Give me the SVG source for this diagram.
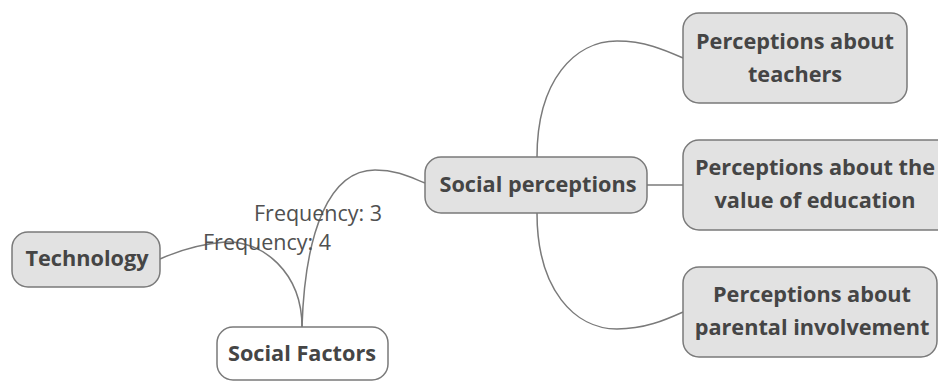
<svg xmlns="http://www.w3.org/2000/svg" width="938" height="382" viewBox="0 0 938 382">
<style>
.box{fill:#e2e2e2;stroke:#7a7a7a;stroke-width:1.5}
.root{fill:#ffffff;stroke:#7a7a7a;stroke-width:1.5}
.t{font-family:"Open Sans","Noto Sans",sans-serif;font-weight:bold;font-size:21.7px;fill:#454545;text-anchor:middle}
.lbl{font-family:"Open Sans","Noto Sans",sans-serif;font-size:21.5px;fill:#505050}
.c{fill:none;stroke:#7a7a7a;stroke-width:1.5}
</style>
<rect width="938" height="382" fill="#ffffff"/>
<g id="connectors">
<path class="c" d="M302,327 C302,272 262,240 225,242 C200,244 180,250 160,259"/>
<path class="c" d="M302,327 C305,230 330,170 375,170 C398,170 412,178 425,183"/>
<path class="c" d="M537,157 C537,80 575,41 617,41 C645,41 665,50 683,58"/>
<path class="c" d="M647,185 L683,185"/>
<path class="c" d="M537,213 C537,290 575,329 617,329 C645,329 665,320 683,312"/>
</g>
<g id="labels">
<text class="lbl" x="254" y="221">Frequency: 3</text>
<text class="lbl" x="203" y="250">Frequency: 4</text>
</g>
<g id="social-factors">
<rect class="root" x="217" y="327" width="171" height="53" rx="16"/>
<text class="t" x="302" y="361">Social Factors</text>
</g>
<g id="technology">
<rect class="box" x="12" y="232" width="148" height="55" rx="16"/>
<text class="t" x="87" y="266">Technology</text>
</g>
<g id="social-perceptions">
<rect class="box" x="425" y="157" width="222" height="56" rx="16"/>
<text class="t" x="538" y="192">Social perceptions</text>
</g>
<g id="teachers">
<rect class="box" x="683" y="13" width="224" height="90" rx="16"/>
<text class="t" x="795" y="49">Perceptions about</text>
<text class="t" x="795" y="82">teachers</text>
</g>
<g id="education">
<rect class="box" x="683" y="140" width="270" height="90" rx="16"/>
<text class="t" x="815" y="175">Perceptions about the</text>
<text class="t" x="815" y="208">value of education</text>
</g>
<g id="parental">
<rect class="box" x="683" y="267" width="254" height="90" rx="16"/>
<text class="t" x="812" y="302">Perceptions about</text>
<text class="t" x="812" y="335">parental involvement</text>
</g>
</svg>
